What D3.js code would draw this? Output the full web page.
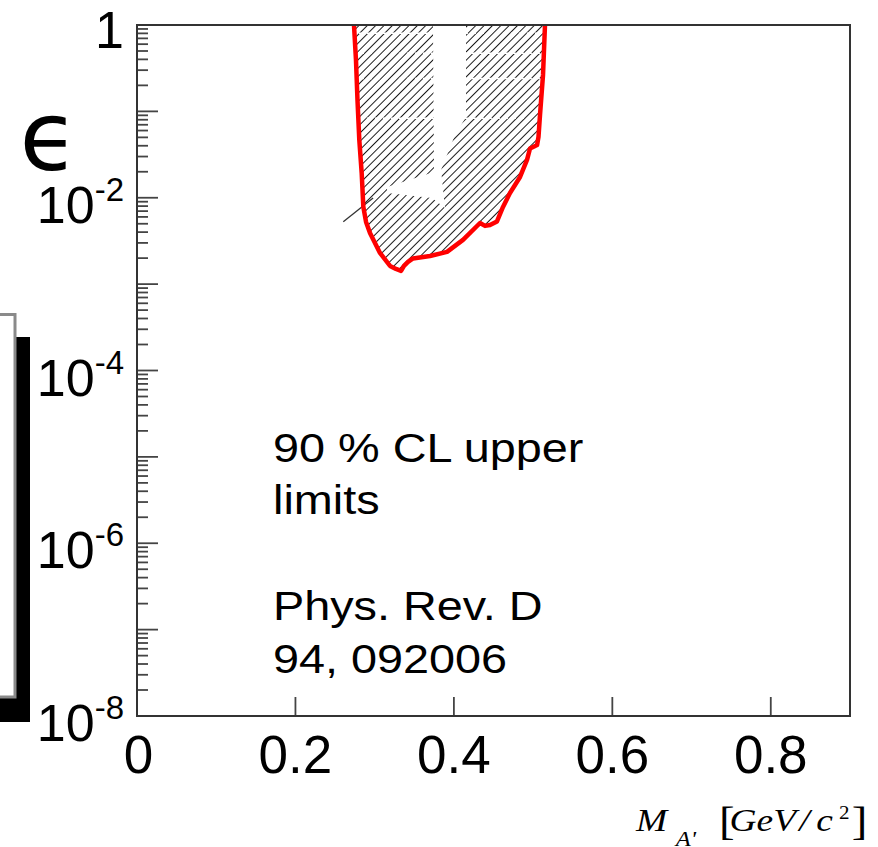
<!DOCTYPE html>
<html>
<head>
<meta charset="utf-8">
<script src="https://cdn.jsdelivr.net/npm/d3@7"></script>
<style>
  body { margin: 0; background: #fff; }
  svg { display: block; }
</style>
</head>
<body>
<svg id="chart" width="878" height="847"></svg>
<script>
// exclusion contour, 90% CL upper limit (mass in GeV/c^2, epsilon)
const contourMass = [0.2739, 0.2764, 0.2783, 0.2806, 0.2836, 0.2857, 0.2891, 0.2941, 0.3067, 0.3194,
  0.3269, 0.3333, 0.3370, 0.3421, 0.3484, 0.3699, 0.3913, 0.4115, 0.4330, 0.4393, 0.4456,
  0.4544, 0.4620, 0.4708, 0.4835, 0.4923, 0.4961, 0.5050, 0.5068, 0.5087, 0.5125, 0.5150];
const contourEps = [1, 0.394, 0.1355, 0.0467, 0.01936, 0.00783, 0.00525, 0.00392, 0.0023, 0.001625,
  0.0015, 0.001422, 0.001625, 0.001807, 0.001982, 0.00212, 0.00236, 0.00325, 0.0051, 0.00472, 0.00484,
  0.00532, 0.00783, 0.01137, 0.0174, 0.0274, 0.0372, 0.0408, 0.0506, 0.0908, 0.264, 1];

// unhatched hole inside the region (overlap artefact in the original)
const gapMass = [0.3736, 0.4153, 0.4153, 0.4014, 0.3838, 0.3888, 0.3724, 0.3156, 0.3156, 0.3749];
const gapEps = [1, 1, 0.0861, 0.0533, 0.0210, 0.00762, 0.00995, 0.01137, 0.01334, 0.0199];

// white dashed seams across the hatching
const seamEps = [0.8, 0.47, 0.24, 0.083];

// stray hatch segment sticking out on the left
const strayMass = [0.2604, 0.2980];
const strayEps = [0.00529, 0.00995];

const xTicks = [0, 0.2, 0.4, 0.6, 0.8];
const yLabelExp = [0, -2, -4, -6, -8];
const noteLines = ["90 % CL upper", "limits", "", "Phys. Rev. D", "94, 092006"];

const svg = d3.select("#chart"),
      margin = {top: 25, right: 28, bottom: 131, left: 137},
      W = +svg.attr("width"), H = +svg.attr("height"),
      x0 = margin.left, x1 = W - margin.right,
      y0 = margin.top, y1 = H - margin.bottom;

const x = d3.scaleLinear().domain([0, 0.9]).range([x0, x1]);
const y = d3.scaleLog().domain([1e-8, 1]).range([y1, y0]);

// hatch pattern
const defs = svg.append("defs");
defs.append("pattern")
    .attr("id", "hatch")
    .attr("patternUnits", "userSpaceOnUse")
    .attr("width", 5.9).attr("height", 5.9)
    .attr("patternTransform", "rotate(45)")
  .append("line")
    .attr("x1", 0).attr("y1", 0).attr("x2", 0).attr("y2", 5.9)
    .attr("stroke", "#111").attr("stroke-width", 1.9);

defs.append("clipPath").attr("id", "inside")
  .append("path");

// left box with shadow (legend pad mostly off page)
svg.append("rect").attr("x", -50).attr("y", 337).attr("width", 80).attr("height", 385).attr("fill", "#000");
svg.append("rect").attr("x", -50).attr("y", 314.5).attr("width", 65).attr("height", 382.5)
    .attr("fill", "#fff").attr("stroke", "#8a8a8a").attr("stroke-width", 3);

const contour = d3.zip(contourMass, contourEps);
const gap = d3.zip(gapMass, gapEps);
const stray = d3.zip(strayMass, strayEps);

const line = d3.line()
    .x(function(d) { return x(d[0]); })
    .y(function(d) { return y(d[1]); });

defs.select("#inside path").attr("d", line(contour) + "Z");

svg.append("path")
    .attr("d", line(contour) + "Z")
    .attr("fill", "url(#hatch)");

svg.append("path")
    .attr("d", line(gap) + "Z")
    .attr("fill", "#fff");

svg.append("g").attr("clip-path", "url(#inside)")
  .selectAll("line")
  .data(seamEps)
  .join("line")
    .attr("x1", x(0.27)).attr("x2", x(0.52))
    .attr("y1", function(d) { return y(d); }).attr("y2", function(d) { return y(d); })
    .attr("stroke", "#fff").attr("stroke-width", 1.5)
    .attr("stroke-dasharray", "5,3");

svg.append("path")
    .attr("d", line(stray))
    .attr("stroke", "#333").attr("stroke-width", 1.3).attr("fill", "none");

svg.append("path")
    .attr("d", line(contour))
    .attr("fill", "none")
    .attr("stroke", "#f00")
    .attr("stroke-width", 4.5)
    .attr("stroke-linejoin", "round");

// y ticks (inside, left side)
const yTicks = [];
for (let e = -8; e < 0; e++) {
  for (let k = 1; k <= 9; k++) yTicks.push({v: k * Math.pow(10, e), major: k === 1});
}
yTicks.push({v: 1, major: true});
svg.append("g").selectAll("line")
  .data(yTicks)
  .join("line")
    .attr("x1", x0).attr("x2", function(d) { return x0 + (d.major ? 21 : 11); })
    .attr("y1", function(d) { return y(d.v); }).attr("y2", function(d) { return y(d.v); })
    .attr("stroke", "#444").attr("stroke-width", 1.8);

// x ticks (inside, bottom)
svg.append("g").selectAll("line")
  .data(xTicks.filter(function(d) { return d > 0; }))
  .join("line")
    .attr("x1", function(d) { return x(d); }).attr("x2", function(d) { return x(d); })
    .attr("y1", y1).attr("y2", y1 - 19)
    .attr("stroke", "#444").attr("stroke-width", 1.8);

// frame
svg.append("rect")
    .attr("x", x0).attr("y", y0).attr("width", x1 - x0).attr("height", y1 - y0)
    .attr("fill", "none").attr("stroke", "#333").attr("stroke-width", 2);

// x tick labels
svg.append("g").selectAll("text")
  .data(xTicks)
  .join("text")
    .attr("x", function(d) { return x(d) + (d === 0 ? 1.5 : 0); })
    .attr("y", 773)
    .attr("text-anchor", "middle")
    .attr("font-family", "Liberation Sans, Arial, sans-serif")
    .attr("font-size", 53)
    .text(function(d) { return d === 0 ? "0" : d3.format(".1f")(d); });

// y tick labels
const yl = svg.append("g").selectAll("text")
  .data(yLabelExp)
  .join("text")
    .attr("x", 124)
    .attr("y", function(d) { return y(Math.pow(10, d)) + (d === 0 ? 23 : 25); })
    .attr("text-anchor", "end")
    .attr("font-family", "Liberation Sans, Arial, sans-serif")
    .attr("font-size", 52);
yl.each(function(d) {
  const t = d3.select(this);
  if (d === 0) { t.text("1"); return; }
  t.append("tspan").text("10");
  t.append("tspan").attr("font-size", 33).attr("dy", -22).text(String(d));
});

// epsilon axis label
svg.append("text")
    .attr("x", 49).attr("y", 170)
    .attr("text-anchor", "middle")
    .attr("font-family", "DejaVu Sans, sans-serif")
    .attr("font-size", 96)
    .text("\u03F5");

// annotation
const note = svg.append("g")
    .attr("transform", "translate(273,0) scale(1.17,1)");
note.selectAll("text")
  .data(noteLines)
  .join("text")
    .attr("x", 0)
    .attr("y", function(d, i) { return 461.7 + i * 52.8; })
    .attr("font-family", "Liberation Sans, Arial, sans-serif")
    .attr("font-size", 40)
    .text(function(d) { return d; });

// x axis title (horizontally stretched like the source)
const xt = svg.append("text")
    .attr("transform", "translate(636,831) scale(1.17,1)")
    .attr("font-family", "Liberation Serif, Times New Roman, serif")
    .attr("font-size", 32);
xt.append("tspan").attr("x", 0).attr("font-style", "italic").text("M");
xt.append("tspan").attr("x", 34).attr("y", 15).attr("font-size", 21).attr("font-style", "italic").text("A'");
xt.append("tspan").attr("x", 71).attr("y", 4).attr("font-size", 40).text("[");
xt.append("tspan").attr("x", 80).attr("y", 0).attr("font-style", "italic").text("GeV");
xt.append("tspan").attr("x", 139.5).attr("font-style", "italic").text("/");
xt.append("tspan").attr("x", 154).attr("font-style", "italic").text("c");
xt.append("tspan").attr("x", 173.5).attr("y", -12).attr("font-size", 18).text("2");
xt.append("tspan").attr("x", 184.5).attr("y", 4).attr("font-size", 40).text("]");
</script>
</body>
</html>
